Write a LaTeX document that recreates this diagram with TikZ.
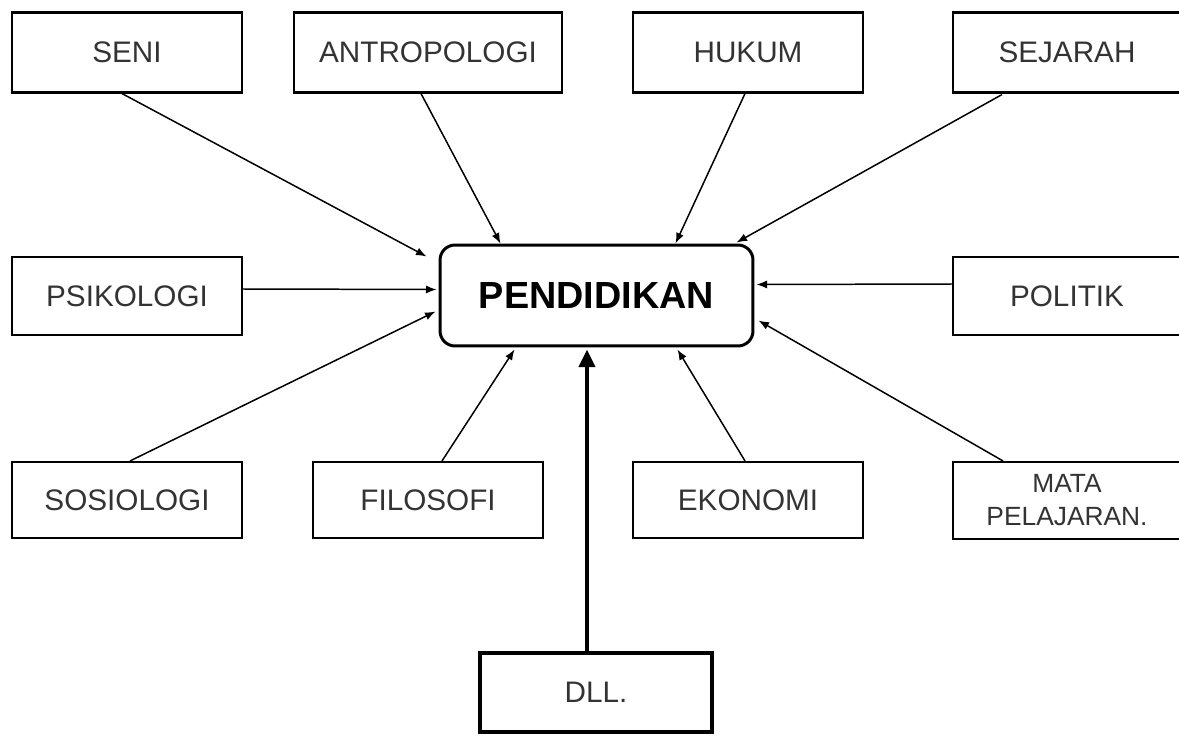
\documentclass[tikz,border=0pt]{standalone}
\usepackage{fontspec}
\setmainfont{Liberation Sans}
\usetikzlibrary{arrows.meta,calc}
\tikzset{
  box/.style={draw=black, line width=1.2pt, inner sep=0pt, text=black!80,
    font=\fontsize{16.9}{20}\selectfont, align=center},
  arr/.style={line width=0.85pt, -{Latex[length=6pt,width=4.6pt]}},
  bigarr/.style={line width=2.3pt, -{Triangle[length=10pt,width=9pt]}}
}
\begin{document}
\begin{tikzpicture}[x=0.02cm,y=-0.02cm]
\useasboundingbox (0,0) rectangle (1179,736);
\node[box, minimum width=4.6cm, minimum height=1.6cm] (seni) at (127,52.5) {SENI};
\node[box, minimum width=5.36cm, minimum height=1.6cm] (antro) at (428,52.5) {ANTROPOLOGI};
\node[box, minimum width=4.6cm, minimum height=1.6cm] (hukum) at (748,52.5) {HUKUM};
\node[box, minimum width=4.56cm, minimum height=1.6cm] (sejarah) at (1067,52.5) {SEJARAH};
\node[box, minimum width=4.6cm, minimum height=1.56cm] (psik) at (127,296) {PSIKOLOGI};
\node[box, minimum width=4.56cm, minimum height=1.56cm] (politik) at (1067,296) {POLITIK};
\node[draw, line width=1.7pt, rounded corners=0.3cm, minimum width=6.26cm, minimum height=2.02cm,
  inner sep=0pt, font=\bfseries\fontsize{21.5}{24}\selectfont] (pend) at (596.5,295.5) {PENDIDIKAN};
\node[box, minimum width=4.6cm, minimum height=1.52cm] (sosio) at (127,500) {SOSIOLOGI};
\node[box, minimum width=4.6cm, minimum height=1.52cm] (filo) at (428,500) {FILOSOFI};
\node[box, minimum width=4.6cm, minimum height=1.52cm] (eko) at (748,500) {EKONOMI};
\node[box, minimum width=4.56cm, minimum height=1.54cm, font=\fontsize{15}{18.8}\selectfont] (mata) at (1067,500.5) {MATA\\PELAJARAN.};
\node[box, line width=2.6pt, minimum width=4.64cm, minimum height=1.58cm] (dll) at (596,692.5) {DLL.};
\draw[arr] ($(seni.south)+(-5,0)$) -- ($(pend.north west)+(-12,13)$);
\draw[arr] ($(antro.south)+(-7,0)$) -- ($(pend.north west)+(62,0)$);
\draw[arr] ($(hukum.south)+(-3,0)$) -- ($(pend.north east)+(-79,0)$);
\draw[arr] ($(sejarah.south)+(-65,1)$) -- ($(pend.north east)+(-18,-1)$);
\draw[arr] ($(psik.east)+(0,-7)$) -- ($(pend.west)+(-2,-6)$);
\draw[arr] ($(politik.west)+(0,-12)$) -- ($(pend.east)+(2,-11)$);
\draw[arr] ($(sosio.north)+(3,0)$) -- ($(pend.west)+(-3,16)$);
\draw[arr] ($(filo.north)+(14,0)$) -- ($(pend.south west)+(76,2)$);
\draw[arr] ($(eko.north)+(-3,0)$) -- ($(pend.south east)+(-77,2)$);
\draw[arr] ($(mata.north)+(-64,0)$) -- ($(pend.east)+(4,25)$);
\draw[bigarr] ($(dll.north)+(-9,0)$) -- ($(pend.south)+(-9.5,2)$);
\end{tikzpicture}
\end{document}
